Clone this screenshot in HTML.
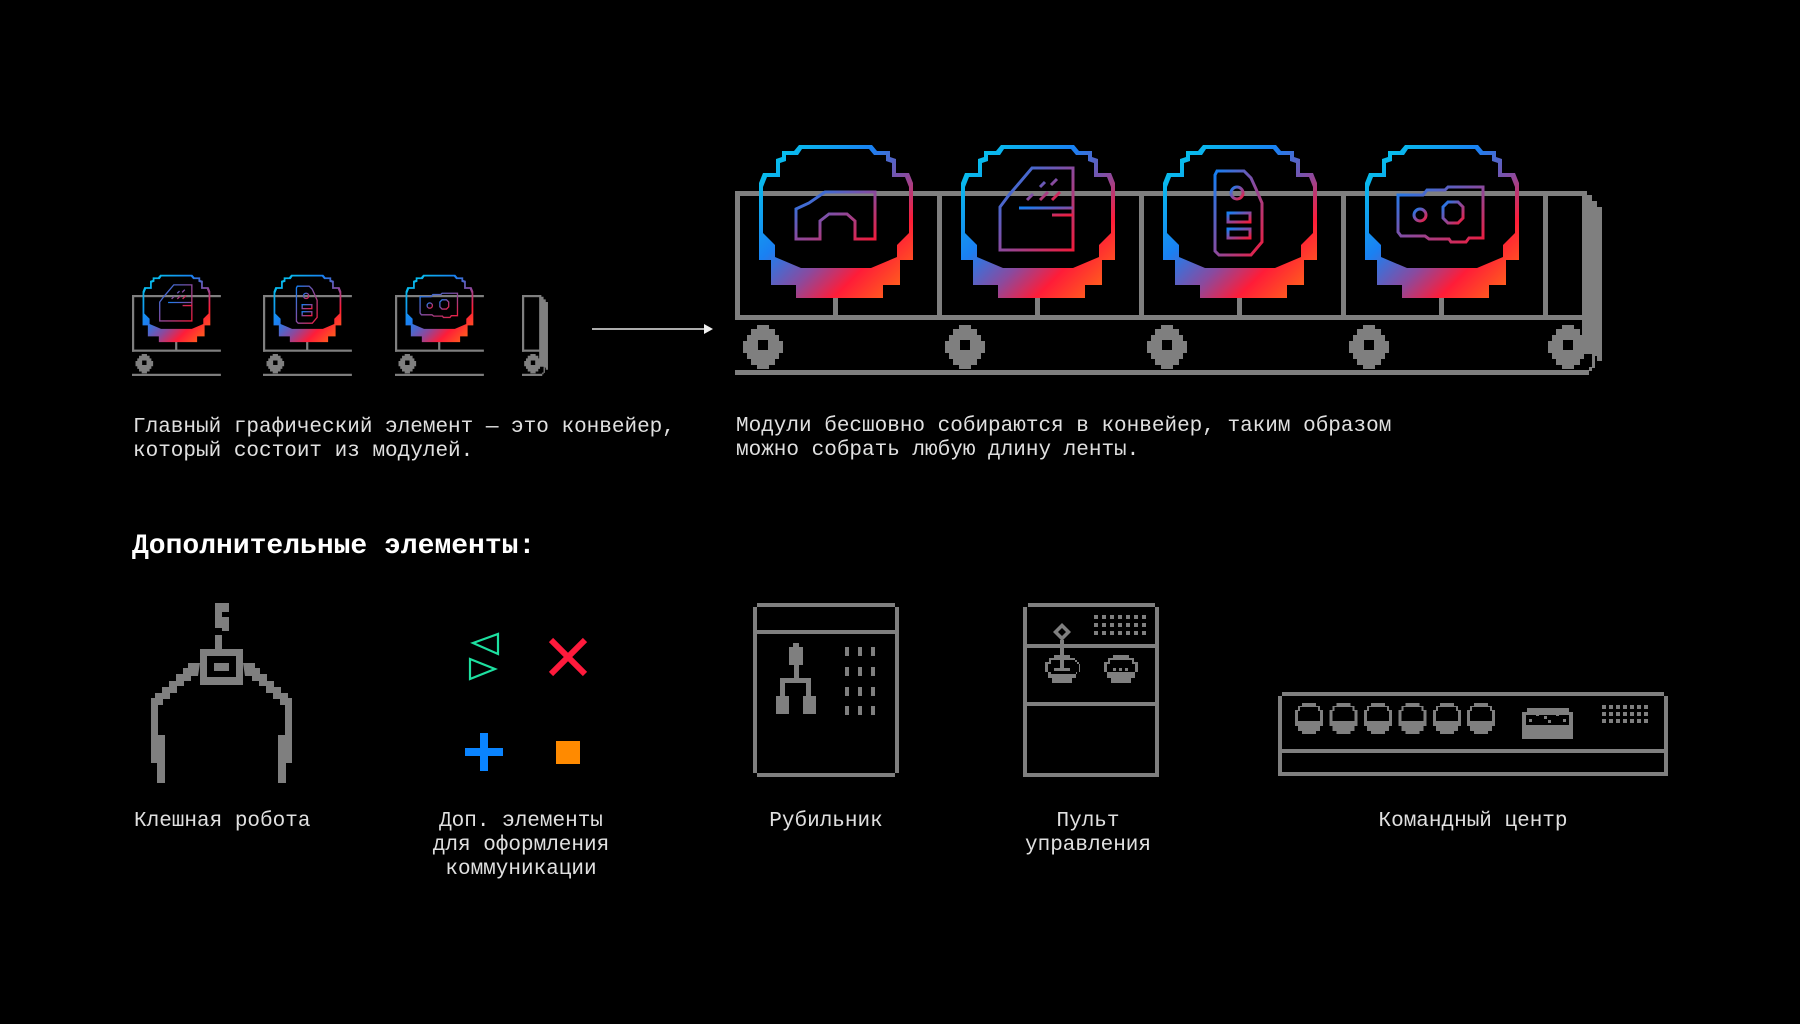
<!DOCTYPE html>
<html><head><meta charset="utf-8"><style>
html,body{margin:0;padding:0;background:#000;}
svg{display:block;}
text{font-family:"Liberation Mono","DejaVu Sans Mono",monospace;fill:#e0e0e0;font-size:21px;}
</style></head><body>
<svg width="1800" height="1024" viewBox="0 0 1800 1024" xmlns="http://www.w3.org/2000/svg">
<defs>
<linearGradient id="og" x1="0" y1="0" x2="1" y2="1">
<stop offset="0" stop-color="#00d4ea"/>
<stop offset="0.38" stop-color="#1a80f2"/>
<stop offset="0.58" stop-color="#8a4a9e"/>
<stop offset="0.74" stop-color="#ff1c38"/>
<stop offset="1" stop-color="#ff7a12"/>
</linearGradient>
<linearGradient id="ig" x1="0" y1="0" x2="1" y2="1">
<stop offset="0" stop-color="#1480f4"/>
<stop offset="0.5" stop-color="#8a4a9e"/>
<stop offset="1" stop-color="#f01c3c"/>
</linearGradient>
<g id="wheel">
<path d="M-6,-20 h12 v4 h6 v6 h4 v6 h4 v12 h-4 v6 h-4 v6 h-6 v4 h-12 v-4 h-6 v-6 h-4 v-6 h-4 v-12 h4 v-6 h4 v-6 h6z M-5,-5 v10 h10 v-10z" fill-rule="evenodd"/>
</g>
<g id="frame" fill="#7f7f7f">
<rect x="0" y="0" width="202" height="5"/>
<rect x="0" y="0" width="5" height="129"/>
<rect x="0" y="124" width="202" height="5"/>
<rect x="98" y="100" width="5" height="26"/>
<use href="#wheel" x="28" y="154"/>
<rect x="0" y="179" width="202" height="5"/>
</g>
<g id="endp" fill="#7f7f7f">
<rect x="0" y="0" width="44" height="5"/>
<rect x="0" y="0" width="5" height="129"/>
<rect x="0" y="124" width="44" height="5"/>
<use href="#wheel" x="25" y="154"/>
<rect x="0" y="179" width="44" height="5"/>
<path d="M39,4 h10 v6 h5 v6 h5 v154 h-5 v-5 h-5 v-2 h-10z"/>
<path d="M49,165 h3 v12 h-3 v3 h-3 v4 h-3 v-5 h3 v-3 h3z"/>
</g>
<path id="oct" fill="url(#og)" fill-rule="evenodd" d="M40,0 H113 L118,6 H131 V12 L137,14 V28 H150 L154,38 V115 H141 V140 H124 V153 H37 V140 H12 V115 H0 V38 L4,28 H17 V14 L23,12 V6 H35 Z M43,4 H110 L115,10 H127 V16 L133,18 V32 H146 L150,42 V88 L138,100 V112 L112,123 H42 L16,112 V100 L4,88 V42 L8,32 H21 V18 L27,16 V10 H39 Z"/>
<g id="i1" fill="none" stroke="url(#ig)" stroke-width="3">
<path d="M37,94 V64 L50,58 L66,47 H116 V94 H96 V76 L88,69 H70 L61,76 V94 Z"/>
<path d="M99,55 H107"/>
</g>
<g id="i2" fill="none" stroke="url(#ig)" stroke-width="3">
<path d="M71,23 H112 V105 H39 V62 L48,50 L60,36 Z"/>
<path d="M58,63 H112 M91,70 H112"/>
<path d="M66,55 L72,49 M79,55 L87,47 M91,55 L99,47 M90,40 L96,34 M79,42 L84,37" stroke-width="3"/>
</g>
<g id="i3" fill="none" stroke="url(#ig)" stroke-width="3">
<path d="M54,26 H81 L88,33 L93,44 L99,58 V97 L88,110 H56 L52,106 V30 Z"/>
<circle cx="74" cy="48" r="6"/>
<rect x="65" y="68" width="22" height="9"/>
<rect x="65" y="84" width="22" height="9"/>
</g>
<g id="i4" fill="none" stroke="url(#ig)" stroke-width="3">
<path d="M33,50 H58 L62,45 H80 L83,42 H118 V93 H104 L101,97 H86 L84,94 H64 L60,91 H36 L33,87 Z"/>
<circle cx="55" cy="70" r="6"/>
<path d="M83,57 h10 l5,5 v11 l-5,5 h-10 l-5,-5 v-11 z"/>
</g>
</defs>

<g transform="translate(735,191)"><use href="#frame"/><g transform="translate(24,-46)"><use href="#oct"/><use href="#i1"/></g></g>
<g transform="translate(937,191)"><use href="#frame"/><g transform="translate(24,-46)"><use href="#oct"/><use href="#i2"/></g></g>
<g transform="translate(1139,191)"><use href="#frame"/><g transform="translate(24,-46)"><use href="#oct"/><use href="#i3"/></g></g>
<g transform="translate(1341,191)"><use href="#frame"/><g transform="translate(24,-46)"><use href="#oct"/><use href="#i4"/></g></g>
<g transform="translate(1543,191)"><use href="#endp"/></g>

<g transform="translate(132,295) scale(0.44)"><use href="#frame"/><g transform="translate(24,-46)"><use href="#oct"/><use href="#i2"/></g></g>
<g transform="translate(263,295) scale(0.44)"><use href="#frame"/><g transform="translate(24,-46)"><use href="#oct"/><use href="#i3"/></g></g>
<g transform="translate(395,295) scale(0.44)"><use href="#frame"/><g transform="translate(24,-46)"><use href="#oct"/><use href="#i4"/></g></g>
<g transform="translate(522,295) scale(0.44)"><use href="#endp"/></g>

<line x1="592" y1="329" x2="706" y2="329" stroke="#e6e6e6" stroke-width="1.5"/>
<path d="M704,324 L713,329 L704,334 Z" fill="#f0f0f0"/>

<text x="133" y="432">Главный графический элемент — это конвейер,</text>
<text x="133" y="456">который состоит из модулей.</text>
<text x="736" y="431">Модули бесшовно собираются в конвейер, таким образом</text>
<text x="736" y="455">можно собрать любую длину ленты.</text>
<text x="132" y="553" style="font-size:28px;font-weight:bold;fill:#fff">Дополнительные элементы:</text>

<g fill="#7f7f7f">
<path d="M215,603 h14 v9 h-7 v5 h7 v14 h-7 v18 h-7 v-14 h7 v-7 h-7 v-12 h0z"/>
<path d="M200,649 h43 v36 h-43z M207,656 v21 h29 v-21z" fill-rule="evenodd"/>
<rect x="214" y="663" width="15" height="8"/>
<path d="M200,663 h-12 v5 h-5 v6 h-7 v7 h-7 v6 h-7 v6 h-7 v5 h-4 v65 h6 v20 h8 v-48 h-7 v-30 h5 v-6 h7 v-6 h7 v-7 h7 v-5 h7 v-5 h7z"/>
<path d="M243,663 h12 v5 h5 v6 h7 v7 h7 v6 h7 v6 h7 v5 h4 v65 h-6 v20 h-8 v-48 h7 v-30 h-5 v-6 h-7 v-6 h-7 v-7 h-7 v-5 h-7 v-5 h-7z"/>
</g>

<path d="M473,643 L498,634 L498,654 Z" fill="none" stroke="#1de0a0" stroke-width="2.2"/>
<path d="M470,659 L495,669 L470,679 Z" fill="none" stroke="#1de0a0" stroke-width="2.2"/>
<path d="M551,640 L585,674 M585,640 L551,674" stroke="#ff1a3c" stroke-width="6"/>
<rect x="465" y="748" width="38" height="8" fill="#0a84ff"/>
<rect x="480" y="733" width="8" height="38" fill="#0a84ff"/>
<rect x="556" y="741" width="24" height="23" fill="#ff8a00"/>

<g fill="#7f7f7f">
<rect x="757" y="603" width="138" height="4"/>
<rect x="753" y="607" width="4" height="166"/>
<rect x="895" y="607" width="4" height="166"/>
<rect x="757" y="630" width="138" height="4"/>
<rect x="757" y="773" width="138" height="4"/>
<rect x="789" y="647" width="14" height="18"/><rect x="793" y="643" width="6" height="4"/>
<rect x="794" y="665" width="5" height="13"/>
<rect x="780" y="678" width="31" height="5"/>
<rect x="780" y="678" width="5" height="18"/><rect x="806" y="678" width="5" height="18"/>
<rect x="776" y="696" width="13" height="18"/><rect x="803" y="696" width="13" height="18"/>
<rect x="845" y="647" width="4" height="9"/><rect x="858" y="647" width="4" height="9"/><rect x="871" y="647" width="4" height="9"/>
<rect x="845" y="667" width="4" height="9"/><rect x="858" y="667" width="4" height="9"/><rect x="871" y="667" width="4" height="9"/>
<rect x="845" y="687" width="4" height="9"/><rect x="858" y="687" width="4" height="9"/><rect x="871" y="687" width="4" height="9"/>
<rect x="845" y="706" width="4" height="9"/><rect x="858" y="706" width="4" height="9"/><rect x="871" y="706" width="4" height="9"/>
</g>

<g fill="#7f7f7f">
<rect x="1028" y="603" width="127" height="4"/>
<rect x="1023" y="607" width="4" height="170"/>
<rect x="1155" y="607" width="4" height="170"/>
<rect x="1027" y="644" width="128" height="4"/>
<rect x="1027" y="702" width="128" height="4"/>
<rect x="1027" y="773" width="128" height="4"/>
<path d="M1062,623 l9,9 l-9,9 l-9,-9z M1062,628 l-4,4 l4,4 l4,-4z" fill-rule="evenodd"/>
<rect x="1060" y="640" width="4" height="30"/>
<rect x="1054" y="668" width="16" height="3"/>
<path d="M1054,655 h16 v3 h5 v4 h4 v10 h-3 v6 h-4 v5 h-20 v-5 h-4 v-6 h-3 v-10 h4 v-4 h5z M1056,660 h-5 v4 h-3 v8 h3 v2 h26 v-2 h3 v-8 h-3 v-4 h-5z" fill-rule="evenodd"/>
<path d="M1113,655 h16 v3 h5 v4 h4 v10 h-3 v6 h-4 v5 h-20 v-5 h-4 v-6 h-3 v-10 h4 v-4 h5z M1115,660 h-5 v4 h-3 v8 h28 v-8 h-3 v-4 h-5z" fill-rule="evenodd"/>
<rect x="1113" y="668" width="3" height="3"/><rect x="1119" y="668" width="3" height="3"/><rect x="1125" y="668" width="3" height="3"/>
<rect x="1094" y="615" width="4" height="4"/><rect x="1102" y="615" width="4" height="4"/><rect x="1110" y="615" width="4" height="4"/><rect x="1118" y="615" width="4" height="4"/><rect x="1126" y="615" width="4" height="4"/><rect x="1134" y="615" width="4" height="4"/><rect x="1142" y="615" width="4" height="4"/>
<rect x="1094" y="623" width="4" height="4"/><rect x="1102" y="623" width="4" height="4"/><rect x="1110" y="623" width="4" height="4"/><rect x="1118" y="623" width="4" height="4"/><rect x="1126" y="623" width="4" height="4"/><rect x="1134" y="623" width="4" height="4"/><rect x="1142" y="623" width="4" height="4"/>
<rect x="1094" y="631" width="4" height="4"/><rect x="1102" y="631" width="4" height="4"/><rect x="1110" y="631" width="4" height="4"/><rect x="1118" y="631" width="4" height="4"/><rect x="1126" y="631" width="4" height="4"/><rect x="1134" y="631" width="4" height="4"/><rect x="1142" y="631" width="4" height="4"/>
</g>

<g fill="#7f7f7f">
<rect x="1282" y="692" width="382" height="4"/>
<rect x="1278" y="696" width="4" height="80"/>
<rect x="1664" y="696" width="4" height="80"/>
<rect x="1282" y="749" width="382" height="4"/>
<rect x="1278" y="772" width="390" height="4"/>
<path id="knob" d="M1302,703 h14 v3 h4 v4 h3 v16 h-3 v5 h-4 v3 h-14 v-3 h-4 v-5 h-3 v-16 h3 v-4 h4z M1303,707 h-3 v4 h-2 v10 h22 v-10 h-2 v-4 h-3z" fill-rule="evenodd"/>
<use href="#knob" x="34.5"/><use href="#knob" x="69"/><use href="#knob" x="103.5"/><use href="#knob" x="138"/><use href="#knob" x="172"/>
<path d="M1527,708 h42 v4 h4 v27 h-51 v-27 h5z M1526,715 v10 h43 v-10z" fill-rule="evenodd"/>
<rect x="1529" y="719" width="3" height="3"/><rect x="1536" y="713" width="3" height="3"/><rect x="1544" y="716" width="3" height="3"/><rect x="1548" y="720" width="3" height="3"/><rect x="1556" y="713" width="3" height="3"/><rect x="1563" y="719" width="3" height="3"/>
<rect x="1602" y="705" width="4" height="4"/><rect x="1609" y="705" width="4" height="4"/><rect x="1616" y="705" width="4" height="4"/><rect x="1623" y="705" width="4" height="4"/><rect x="1630" y="705" width="4" height="4"/><rect x="1637" y="705" width="4" height="4"/><rect x="1644" y="705" width="4" height="4"/>
<rect x="1602" y="712" width="4" height="4"/><rect x="1609" y="712" width="4" height="4"/><rect x="1616" y="712" width="4" height="4"/><rect x="1623" y="712" width="4" height="4"/><rect x="1630" y="712" width="4" height="4"/><rect x="1637" y="712" width="4" height="4"/><rect x="1644" y="712" width="4" height="4"/>
<rect x="1602" y="719" width="4" height="4"/><rect x="1609" y="719" width="4" height="4"/><rect x="1616" y="719" width="4" height="4"/><rect x="1623" y="719" width="4" height="4"/><rect x="1630" y="719" width="4" height="4"/><rect x="1637" y="719" width="4" height="4"/><rect x="1644" y="719" width="4" height="4"/>
</g>

<text x="134" y="826">Клешная робота</text>
<text x="521" y="826" text-anchor="middle">Доп. элементы</text>
<text x="521" y="850" text-anchor="middle">для оформления</text>
<text x="521" y="874" text-anchor="middle">коммуникации</text>
<text x="826" y="826" text-anchor="middle">Рубильник</text>
<text x="1088" y="826" text-anchor="middle">Пульт</text>
<text x="1088" y="850" text-anchor="middle">управления</text>
<text x="1473" y="826" text-anchor="middle">Командный центр</text>
</svg>
</body></html>
